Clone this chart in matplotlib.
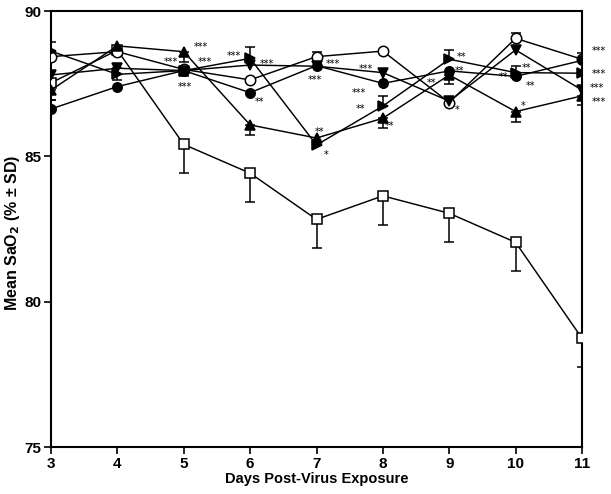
import matplotlib
matplotlib.use("Agg")
import matplotlib.pyplot as plt
import numpy as np

days = [3, 4, 5, 6, 7, 8, 9, 10, 11]

# series means (% SaO2)
control_sq = [87.53, 88.65, 85.41, 84.42, 82.83, 83.64, 83.04, 82.04, 78.74]
open_circle = [88.43, 88.60, 87.99, 87.63, 88.43, 88.62, 86.85, 89.06, 88.34]
filled_circle = [86.63, 87.40, 87.95, 87.19, 88.12, 87.51, 87.94, 87.75, 88.30]
up_tri = [87.28, 88.80, 88.60, 86.08, 85.63, 86.31, 87.80, 86.54, 87.08]
down_tri = [87.80, 88.03, 87.95, 88.14, 88.10, 87.88, 86.90, 88.66, 87.28]
right_tri = [88.62, 87.82, 87.95, 88.37, 85.39, 86.73, 88.34, 87.88, 87.86]

# SD values (one-sided bars; sign gives direction: + up, - down, 0 none)
control_sd = [0, 0, -1.0, -1.0, -1.0, -1.0, -1.0, -1.0, -1.0]
open_circle_sd = [0, 0, 0, 0, 0.17, 0, 0, 0.17, 0.2]
filled_circle_sd = [0.3, 0, 0, 0, 0, 0, 0, 0.35, 0]
up_tri_sd = [-0.34, 0, -0.34, -0.34, 0, -0.33, -0.3, -0.35, -0.3]
down_tri_sd = [0, -0.4, -0.2, 0, 0, 0, 0, 0, 0]
right_tri_sd = [0.3, 0, 0, 0.4, 0, 0.33, 0.32, 0, 0]

# significance annotations: (day, value, text)
annot_days = [5.26, 4.8, 5.32, 5.02, 5.75, 6.25, 6.14, 7.25, 6.98, 7.05, 7.15,
              7.74, 7.64, 7.67, 8.10, 9.19, 9.16, 8.74, 9.12, 10.16, 9.82, 10.22, 10.12,
              11.25, 11.25, 11.22, 11.25]
annot_vals = [88.85, 88.34, 88.34, 87.48, 88.52, 88.26, 86.94, 88.26, 87.72, 85.93, 85.13,
              88.08, 87.26, 86.71, 86.14, 88.49, 88.00, 87.59, 86.69, 88.12, 87.80, 87.49, 86.80,
              88.72, 87.91, 87.42, 86.96]
annot_txt = ["***", "***", "***", "***", "***", "***", "**", "***", "***", "**", "*",
             "***", "***", "**", "**", "**", "**", "**", "*", "**", "**", "**", "*",
             "***", "***", "***", "***"]

yticks = [75, 80, 85, 90]

plt.rcParams['font.family'] = ['Liberation Sans', 'DejaVu Sans']
plt.rcParams['font.weight'] = 'bold'

fig = plt.figure(figsize=(6.11, 4.94), dpi=100)
ax = fig.add_axes([51 / 611, 1 - 447 / 494, 531 / 611, 436 / 494])

series = [
    (control_sq, control_sd, 's', 'white', 6.5),
    (open_circle, open_circle_sd, 'o', 'white', 7.5),
    (filled_circle, filled_circle_sd, 'o', 'black', 6.8),
    (up_tri, up_tri_sd, '^', 'black', 6.5),
    (down_tri, down_tri_sd, 'v', 'black', 6.5),
    (right_tri, right_tri_sd, '>', 'black', 6.5),
]

x = np.array(days, dtype=float)
for vals, sds, mk, fc, ms in series:
    v = np.array(vals)
    s = np.array(sds)
    up = np.where(s > 0, s, 0)
    dn = np.where(s < 0, -s, 0)
    has = s != 0
    if has.any():
        ax.errorbar(x[has], v[has], yerr=[dn[has], up[has]], fmt='none',
                    ecolor='black', elinewidth=1.1, capsize=3.6, capthick=1.1, zorder=2)
    ax.plot(x, v, color='black', lw=1.05, marker=mk, markersize=ms,
            markerfacecolor=fc, markeredgecolor='black', markeredgewidth=1.1, zorder=3)

for d, val, t in zip(annot_days, annot_vals, annot_txt):
    ax.text(d, val - 0.08, t, ha='center', va='center', fontsize=7, fontweight='normal',
            family='DejaVu Sans', zorder=4, clip_on=False)

ax.set_xlim(3, 11)
ax.set_ylim(75, 90)
ax.set_xticks(days)
ax.set_yticks(yticks)
ax.tick_params(axis='both', direction='out', length=5, width=1.2, labelsize=11, pad=2)
for lab in ax.get_xticklabels() + ax.get_yticklabels():
    lab.set_fontweight('bold')
for sp in ax.spines.values():
    sp.set_linewidth(1.5)

ax.set_xlabel('Days Post-Virus Exposure', fontsize=10.5, fontweight='bold', labelpad=1)
ax.set_ylabel('Mean SaO$_\\mathbf{2}$ (% ± SD)', fontsize=11.5, fontweight='bold',
              va='center')
ax.yaxis.set_label_coords(-0.072, 0.49)

fig.savefig('out.png', dpi=100)
